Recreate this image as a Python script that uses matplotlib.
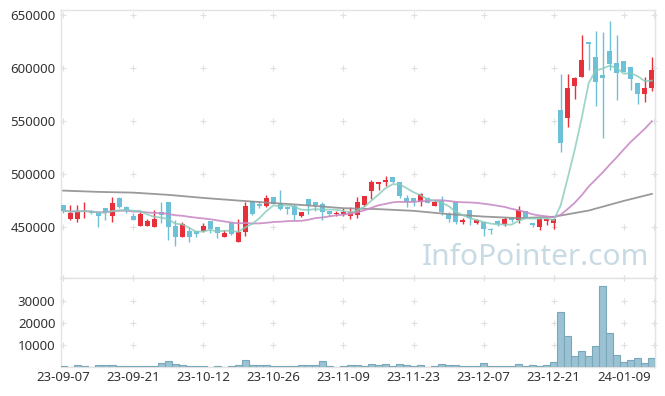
import numpy as np
import pandas as pd
import matplotlib
matplotlib.use('Agg')
import matplotlib.pyplot as plt

plt.rcParams['font.family'] = ['Noto Sans', 'DejaVu Sans']

# daily candles, 85 trading days from 23-09-07
opens = [471000, 457500, 457500, 464000, 465700, 464700, 468000, 461000, 477400, 468900,
         460400, 451500, 451500, 450600, 464200, 473600, 451200, 441100, 446800, 446200,
         446800, 456000, 449700, 441100, 453800, 436400, 445800, 474800, 471700, 470400,
         478300, 471700, 468900, 470100, 461000, 476400, 473600, 471700, 465400, 462300,
         462300, 461000, 461600, 470900, 484500, 491100, 493000, 497200, 492400, 477400,
         477400, 473600, 477400, 470400, 475100, 462500, 473600, 454700, 466300, 454300,
         455300, 448100, 456000, 452800, 458500, 456900, 465400, 454300, 450000, 456000,
         453800, 560600, 552800, 583600, 592100, 624500, 610400, 593700, 616300, 604700,
         606900, 600900, 585800, 575800, 581100]
highs = [471000, 471000, 471000, 473600, 466500, 465000, 468500, 478900, 478000, 470000,
         463500, 464000, 457700, 466300, 473600, 473600, 456900, 454700, 450000, 446500,
         453800, 456000, 450500, 447500, 455300, 457500, 474200, 474800, 474800, 480500,
         478300, 485200, 470400, 471700, 464200, 476400, 473600, 474200, 465400, 464800,
         467700, 469400, 478300, 479500, 494600, 493000, 498400, 497200, 492400, 480500,
         477400, 482000, 478300, 475700, 479800, 464700, 473600, 458500, 466300, 457800,
         455300, 449100, 456900, 459400, 460000, 470400, 465400, 454300, 458500, 458500,
         457500, 594300, 594300, 592100, 631400, 624500, 635200, 634000, 644600, 631400,
         606900, 600900, 585800, 591500, 610400]
lows = [463000, 456900, 455000, 458800, 462000, 450000, 456300, 454700, 468000, 463200,
        456900, 451500, 451500, 450600, 453800, 438000, 432400, 440600, 435800, 441000,
        445000, 444300, 439600, 441100, 442700, 436400, 441800, 461600, 467900, 469400,
        471500, 466300, 462600, 456900, 459300, 462500, 464800, 456900, 461000, 461000,
        460400, 457800, 459100, 470000, 476700, 485200, 489200, 491500, 477600, 469400,
        470400, 470400, 472600, 470400, 461600, 454700, 452900, 453000, 452200, 453000,
        442100, 443700, 451200, 451200, 455300, 453800, 458500, 450000, 447500, 452500,
        448400, 521300, 544300, 571000, 592100, 598400, 564700, 534000, 598400, 570000,
        596200, 579500, 566000, 567900, 578600]
closes = [465700, 463800, 465400, 465700, 463200, 461000, 463200, 472600, 468900, 465700,
          456900, 462500, 456000, 457800, 461900, 450000, 440600, 453100, 441100, 443700,
          451200, 448400, 444900, 444900, 443400, 445800, 470100, 462300, 470400, 477400,
          472000, 467300, 467300, 461600, 464200, 471000, 471000, 464700, 462300, 463500,
          464700, 464700, 474200, 479500, 492400, 493000, 494900, 492400, 479800, 474200,
          473600, 481100, 472600, 473600, 464700, 457800, 454700, 456300, 458500, 456300,
          448100, 447500, 452800, 457500, 456300, 466300, 458500, 451900, 457500, 457500,
          457500, 529300, 581100, 590600, 607800, 622600, 587400, 590600, 604100, 595900,
          596200, 589900, 575800, 581100, 598400]
volumes = [300, 150, 1100, 300, 150, 1100, 750, 750, 300, 300,
           300, 300, 300, 300, 2000, 2600, 1500, 750, 300, 300,
           300, 0, 300, 0, 300, 1000, 3000, 1000, 750, 750,
           300, 300, 300, 300, 750, 750, 750, 2600, 300, 0,
           300, 750, 750, 300, 1200, 750, 1200, 300, 1200, 750,
           300, 750, 0, 300, 1200, 750, 750, 300, 300, 300,
           1700, 300, 300, 300, 300, 1200, 300, 750, 300, 750,
           2100, 24900, 13900, 4800, 7100, 4800, 9400, 36700, 15300, 5300,
           2100, 3000, 3900, 1700, 3900]

# long moving average, every 5th day
ma_long_idx = [0, 5, 10, 15, 20, 25, 30, 35, 40, 45, 50, 55, 60, 65, 70, 75, 80, 84]
ma_long = [484500, 483300, 482600, 480500, 477600, 475100, 472800, 470500, 467900, 467000,
           465400, 462300, 460000, 458500, 459800, 465700, 474800, 481400]

tick_labels = ['23-09-07', '23-09-21', '23-10-12', '23-10-26', '23-11-09',
               '23-11-23', '23-12-07', '23-12-21', '24-01-09']

df = pd.DataFrame({'open': opens, 'high': highs, 'low': lows, 'close': closes, 'vol': volumes})
df['ma5'] = df['close'].rolling(5, min_periods=1).mean()
df['ma20'] = df['close'].rolling(20, min_periods=1).mean()
x = np.arange(len(df))

up_col = '#e8303a'
down_col = '#6cc0d8'
grid_col = '#e0e0e0'
spine_col = '#e3e3e3'

fig = plt.figure(figsize=(6.65, 3.96), dpi=100)
ax = fig.add_axes([61/665, 1-278/396, 594/665, 268/396])
axv = fig.add_axes([61/665, 1-367/396, 594/665, 89/396], sharex=ax)

up = df['close'] >= df['open']
cols = np.where(up, up_col, down_col)
body_lo = np.minimum(df['open'], df['close'])
body_h = np.maximum(np.abs(df['close'] - df['open']), 900)
ax.vlines(x, df['low'], df['high'], colors=cols, lw=1.0, zorder=2)
ax.bar(x, body_h, bottom=body_lo, width=0.72, color=cols, lw=0, zorder=3)

ax.plot(ma_long_idx, ma_long, color='#8f8f8f', lw=1.3, alpha=0.9, zorder=4)
ax.plot(x, df['ma20'], color='#c98bc6', lw=1.3, alpha=0.9, zorder=4)
ax.plot(x, df['ma5'], color='#86cbbb', lw=1.3, alpha=0.8, zorder=5)

axv.bar(x, df['vol'], width=1.0, color='#9bc2d3', edgecolor='#7aa7ba', lw=0.8, zorder=3)

ax.set_xlim(-0.3, 84.45)
ax.set_ylim(402000, 655000)
axv.set_ylim(0, 40200)

tick_pos = list(range(0, 81, 10))
price_ticks = [450000, 500000, 550000, 600000, 650000]
vol_ticks = [10000, 20000, 30000]

# cross-shaped grid marks
gx = tick_pos + [84.25]
for yy in price_ticks + [402000]:
    ax.scatter(gx, [yy]*len(gx), marker='+', s=16, color=grid_col, lw=0.8, zorder=1, clip_on=False)
for yy in vol_ticks + [40200]:
    axv.scatter(gx, [yy]*len(gx), marker='+', s=16, color=grid_col, lw=0.8, zorder=1, clip_on=False)

ax.set_yticks(price_ticks)
ax.set_yticklabels([str(t) for t in price_ticks])
axv.set_yticks(vol_ticks)
axv.set_yticklabels([str(t) for t in vol_ticks])
axv.set_xticks(tick_pos)
axv.set_xticklabels(tick_labels)
ax.tick_params(axis='x', labelbottom=False, length=0)
for a in (ax, axv):
    a.tick_params(axis='both', length=0, labelsize=9.5, colors='#333333', pad=4)
    for s in a.spines.values():
        s.set_color(spine_col)
        s.set_linewidth(1.0)
axv.tick_params(axis='x', pad=3)

ax.text(0.99, 0.048, 'InfoPointer.com', transform=ax.transAxes, ha='right', va='baseline',
        fontsize=21.5, color='#c8dae4', zorder=0)

fig.savefig('out.png', dpi=100)
